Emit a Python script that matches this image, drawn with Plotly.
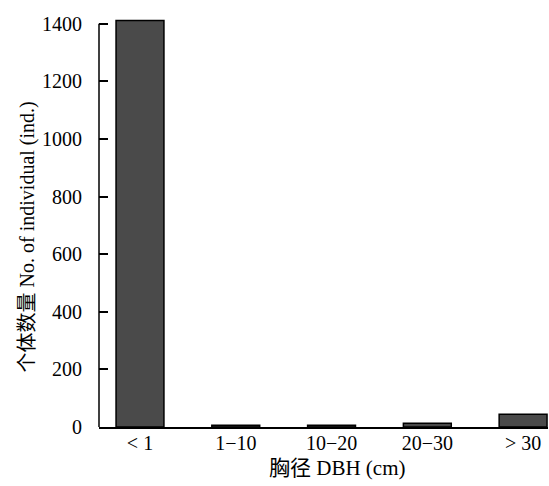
import plotly.graph_objects as go

categories = ["< 1", "1−10", "10−20", "20−30", "> 30"]
counts = [1411, 6, 6, 13, 44]
y_ticks = [0, 200, 400, 600, 800, 1000, 1200, 1400]
x_title = "胸径 DBH (cm)"
y_title = "个体数量 No. of individual (ind.)"

font_fam = "Liberation Serif, Noto Sans CJK SC, serif"

W, H = 549, 486
L, R, T = 99, 1, 17.5
B = H - 426.7
pw, ph = W - L - R, H - T - B

def px_x(px):
    return (px - L) / pw

def px_y(py):
    return (H - B - py) / ph

fig = go.Figure(go.Bar(
    x=list(range(len(categories))), y=counts, width=0.5,
    marker=dict(color="#4a4a4a", line=dict(color="#000000", width=1.5)),
))
fig.update_layout(
    width=W, height=H, margin=dict(l=L, r=R, t=T, b=B),
    plot_bgcolor="white", paper_bgcolor="white", showlegend=False,
    font=dict(family=font_fam, size=20, color="black"),
    xaxis=dict(
        range=[-0.428, 4.26], tickmode="array",
        tickvals=list(range(len(categories))), ticktext=categories,
        showline=True, linecolor="black", linewidth=1.5, ticks="",
        showgrid=False, zeroline=False, automargin=False,
        tickfont=dict(size=20), ticklabelstandoff=-3,
    ),
    yaxis=dict(
        range=[0, 1420], tickmode="array", tickvals=y_ticks,
        showline=False,
        ticks="inside", ticklen=9, tickwidth=1.5, tickcolor="black",
        showgrid=False, zeroline=False, ticklabelstandoff=16, automargin=False,
        tickfont=dict(size=20),
    ),
    shapes=[dict(type="line", xref="paper", yref="y", x0=0, x1=0, y0=0, y1=1400,
                 line=dict(color="black", width=1.5))],
    annotations=[
        dict(text=x_title, xref="paper", yref="paper", x=px_x(337), y=px_y(468),
             showarrow=False, xanchor="center", yanchor="middle", font=dict(size=21)),
        dict(text=y_title, xref="paper", yref="paper", x=px_x(27), y=px_y(237),
             showarrow=False, xanchor="center", yanchor="middle", textangle=-90,
             font=dict(size=20)),
    ],
)
fig.write_html("out.html", config={"displayModeBar": False},
               post_script="document.body.style.margin='0';document.body.style.overflow='hidden';")
